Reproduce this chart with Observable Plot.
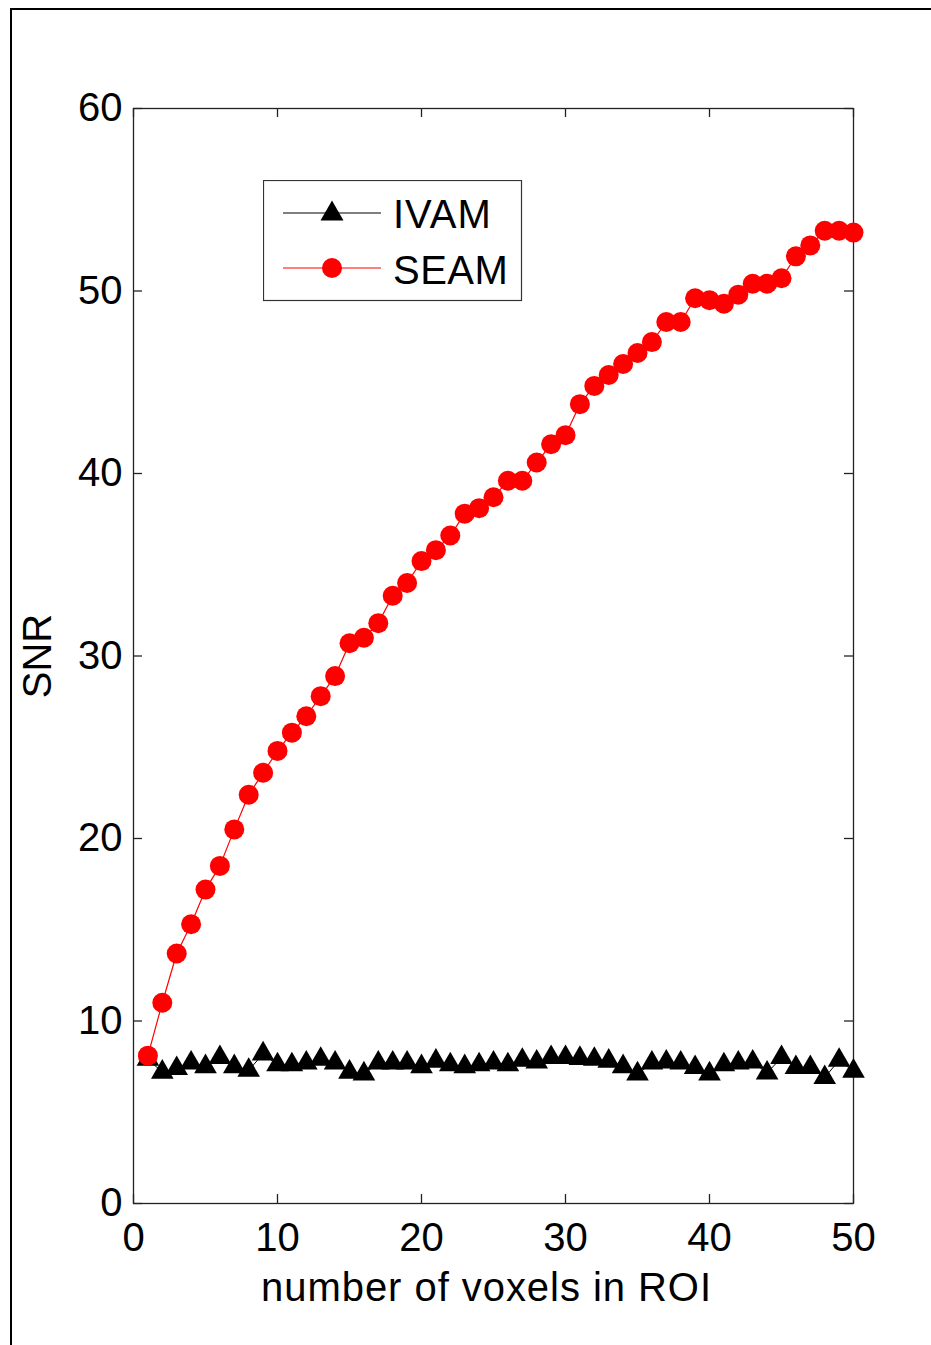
<!DOCTYPE html>
<html>
<head>
<meta charset="utf-8">
<script src="https://cdn.jsdelivr.net/npm/d3@7"></script>
<script src="https://cdn.jsdelivr.net/npm/@observablehq/plot@0.6"></script>
<style>
  body { margin: 0; background: #fff; }
  #wrap { position: relative; width: 931px; height: 1345px; overflow: hidden; font-family: "Liberation Sans", Arial, Helvetica, sans-serif; }
  #border { position: absolute; left: 10px; top: 8px; width: 1000px; height: 2000px; border-left: 2px solid #000; border-top: 2px solid #000; }
  #chart { position: absolute; left: 0; top: 0; }
  #legend { position: absolute; left: 263px; top: 180px; }
</style>
</head>
<body>
<div id="wrap">
  <div id="border"></div>
  <div id="chart"></div>
  <div id="legend"></div>
</div>
<script>
// ---- data ----
const voxels = [1,2,3,4,5,6,7,8,9,10,11,12,13,14,15,16,17,18,19,20,21,22,23,24,25,26,27,28,29,30,31,32,33,34,35,36,37,38,39,40,41,42,43,44,45,46,47,48,49,50];
const ivam = [7.9,7.2,7.4,7.7,7.5,8.0,7.5,7.3,8.2,7.6,7.6,7.7,7.9,7.7,7.2,7.1,7.7,7.7,7.7,7.5,7.8,7.6,7.5,7.6,7.7,7.6,7.85,7.75,8.0,8.0,7.95,7.9,7.8,7.5,7.1,7.7,7.75,7.7,7.45,7.1,7.6,7.7,7.75,7.15,8.0,7.45,7.45,6.9,7.85,7.25];
const seam = [8.1,11.0,13.7,15.3,17.2,18.5,20.5,22.4,23.6,24.8,25.8,26.7,27.8,28.9,30.7,31.0,31.8,33.3,34.0,35.2,35.8,36.6,37.8,38.1,38.7,39.6,39.6,40.6,41.6,42.1,43.8,44.8,45.4,46.0,46.6,47.2,48.3,48.3,49.6,49.5,49.3,49.8,50.4,50.4,50.7,51.9,52.5,53.3,53.3,53.2];
const xTicks = [0,10,20,30,40,50];
const yTicks = [0,10,20,30,40,50,60];
const seriesNames = ["IVAM", "SEAM"];
const xLabel = "number of voxels in ROI";
const yLabel = "SNR";

const ivamData = voxels.map((v, i) => ({x: v, y: ivam[i]}));
const seamData = voxels.map((v, i) => ({x: v, y: seam[i]}));

// ---- layout ----
const W = 931, H = 1345;
const mL = 133, mR = 78, mT = 108, mB = 142;
const innerW = W - mL - mR, innerH = H - mT - mB;
const tick = 9;
const fs = 40;

const chart = Plot.plot({
  width: W, height: H,
  marginLeft: mL, marginRight: mR, marginTop: mT, marginBottom: mB,
  style: { fontFamily: '"Liberation Sans", Arial, Helvetica, sans-serif', fontSize: fs + "px", color: "#000", background: "transparent", overflow: "visible" },
  x: { domain: [0, 50] },
  y: { domain: [0, 60] },
  marks: [
    Plot.frame({ stroke: "#222", strokeWidth: 1.3 }),
    // inward ticks on all four sides
    Plot.ruleX(xTicks, { x: d => d, insetTop: innerH - tick, stroke: "#222", strokeWidth: 1.3 }),
    Plot.ruleX(xTicks, { x: d => d, insetBottom: innerH - tick, stroke: "#222", strokeWidth: 1.3 }),
    Plot.ruleY(yTicks, { y: d => d, insetRight: innerW - tick, stroke: "#222", strokeWidth: 1.3 }),
    Plot.ruleY(yTicks, { y: d => d, insetLeft: innerW - tick, stroke: "#222", strokeWidth: 1.3 }),
    Plot.axisX(xTicks, { tickSize: 0, tickPadding: 19, fontSize: fs, label: null }),
    Plot.axisY(yTicks, { tickSize: 0, tickPadding: 11, fontSize: fs, label: null }),
    Plot.text([xLabel], { text: d => d, frameAnchor: "bottom", dx: -7, dy: 85, fontSize: fs, lineAnchor: "middle", textAnchor: "middle" }),
    Plot.text([yLabel], { text: d => d, frameAnchor: "left", rotate: -90, dx: 38 - mL, fontSize: fs, lineAnchor: "middle", textAnchor: "middle" }),
    // IVAM
    Plot.line(ivamData, { x: "x", y: "y", stroke: "#000", strokeWidth: 1 }),
    Plot.dot(ivamData, { x: "x", y: "y", symbol: "triangle", r: 8.4, fill: "#000", stroke: "none" }),
    // SEAM
    Plot.line(seamData, { x: "x", y: "y", stroke: "#ff0000", strokeWidth: 1.2 }),
    Plot.dot(seamData, { x: "x", y: "y", symbol: "circle", r: 10, fill: "#ff0000", stroke: "none" })
  ]
});
document.getElementById("chart").appendChild(chart);
// slightly wider spacing on the x-axis title, as in the reference
chart.querySelectorAll("text").forEach(t => {
  if (t.textContent === xLabel) t.setAttribute("letter-spacing", "0.95");
});

// ---- legend ----
const ns = "http://www.w3.org/2000/svg";
const lg = document.createElementNS(ns, "svg");
lg.setAttribute("width", 260); lg.setAttribute("height", 122);
lg.innerHTML = `
  <rect x="0.5" y="0.5" width="258" height="120" fill="#fff" stroke="#333" stroke-width="1.2"/>
  <line x1="20" x2="118" y1="33" y2="33" stroke="#000" stroke-width="1"/>
  <path d="M69,20.5L57.5,40.5L80.5,40.5Z" fill="#000"/>
  <text x="130" y="48" font-size="${fs}" fill="#000" letter-spacing="1" font-family='"Liberation Sans", Arial, sans-serif'>${seriesNames[0]}</text>
  <line x1="20" x2="118" y1="88" y2="88" stroke="#ff0000" stroke-width="1.2"/>
  <circle cx="69" cy="88" r="10" fill="#ff0000"/>
  <text x="130" y="104" font-size="${fs}" fill="#000" letter-spacing="0.5" font-family='"Liberation Sans", Arial, sans-serif'>${seriesNames[1]}</text>
`;
document.getElementById("legend").appendChild(lg);
</script>
</body>
</html>
